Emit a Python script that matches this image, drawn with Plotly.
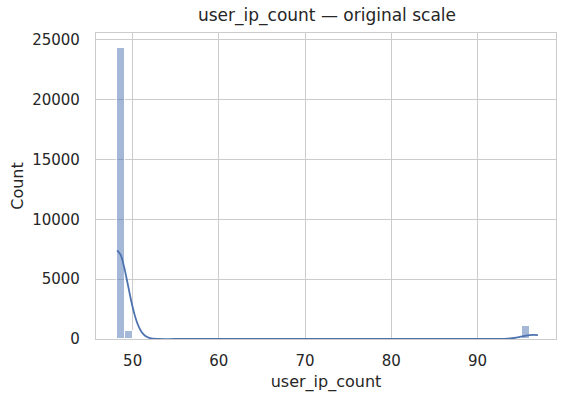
import plotly.graph_objects as go

# Histogram data
bin_centers = [48.63, 49.55, 95.6]
bin_counts = [24350, 650, 1080]
bin_width = 0.92

# KDE curve
kde_x = [48.2, 48.6, 49.0, 49.4, 49.8, 50.2, 50.6, 51.0, 51.4, 52.0, 53.0, 55.0, 60.0, 70.0, 80.0, 88.0,
         91.0, 92.0, 93.0, 93.5, 94.0, 94.5, 95.0, 95.5, 96.0, 96.5, 97.0]
kde_y = [7400, 7040, 6050, 4700, 3300, 2100, 1210, 630, 296, 79, 5, 0, 0, 0, 0, 0,
         1, 4, 14, 30, 62, 115, 190, 260, 315, 340, 330]

x_ticks = [50, 60, 70, 80, 90]
y_ticks = [0, 5000, 10000, 15000, 20000, 25000]

blue = "#4c72b0"
grid = "#cccccc"
txt = "#262626"
font = "DejaVu Sans"

fig = go.Figure()
fig.add_trace(go.Bar(
    x=bin_centers, y=bin_counts, width=bin_width,
    marker=dict(color="rgba(76,114,176,0.5)", line=dict(color="white", width=1)),
    showlegend=False,
))
fig.add_trace(go.Scatter(
    x=kde_x, y=kde_y, mode="lines", line=dict(color=blue, width=1.8, shape="spline"),
    showlegend=False,
))

fig.update_layout(
    width=569, height=402,
    margin=dict(l=96, r=13, t=33, b=63, autoexpand=False),
    paper_bgcolor="white", plot_bgcolor="white",
    font=dict(family=font, color=txt, size=15),
    title=dict(text="user_ip_count — original scale", x=0.5747, xanchor="center",
               y=0.962, yanchor="middle", font=dict(size=17, color=txt, family=font)),
    bargap=0,
)
fig.update_xaxes(
    range=[45.75, 99.1], tickvals=x_ticks, ticktext=[str(v) for v in x_ticks],
    showgrid=True, gridcolor=grid, gridwidth=1,
    showline=True, linecolor=grid, linewidth=1.25, mirror=True,
    zeroline=False, ticks="", ticklabelstandoff=8, automargin=False,
    title=dict(text="user_ip_count", font=dict(size=16, color=txt), standoff=6),
)
fig.update_yaxes(
    range=[0, 25570], tickvals=y_ticks, ticktext=[str(v) for v in y_ticks],
    showgrid=True, gridcolor=grid, gridwidth=1,
    showline=True, linecolor=grid, linewidth=1.25, mirror=True,
    zeroline=False, ticks="", ticklabelstandoff=12, automargin=False,
    title=dict(text="Count", font=dict(size=16, color=txt), standoff=4),
)

fig.write_html(
    "out.html",
    config={"displayModeBar": False},
    post_script="document.body.style.margin='0';document.body.style.overflow='hidden';",
)
